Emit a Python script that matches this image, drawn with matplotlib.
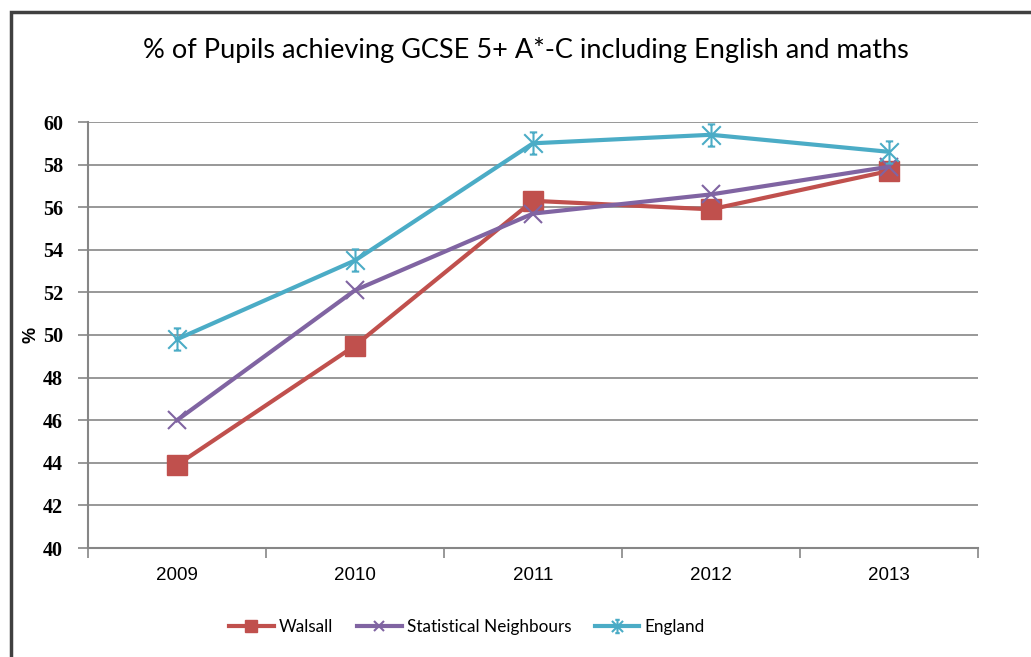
import matplotlib.pyplot as plt
import matplotlib.patches as mpatches
from matplotlib.path import Path

# data
years = ["2009", "2010", "2011", "2012", "2013"]
walsall = [43.9, 49.5, 56.3, 55.9, 57.7]
stat_neighbours = [46.0, 52.1, 55.7, 56.6, 57.9]
england = [49.8, 53.5, 59.0, 59.4, 58.6]
y_ticks = list(range(40, 61, 2))

# Excel-style star marker: X with a vertical bar and caps
star = Path(
    [(-1, -1), (1, 1), (-1, 1), (1, -1), (0, -1.2), (0, 1.2),
     (-0.4, 1.2), (0.4, 1.2), (-0.4, -1.2), (0.4, -1.2)],
    [Path.MOVETO, Path.LINETO] * 5,
)

fig = plt.figure(figsize=(10.31, 6.57), dpi=100)
ax = fig.add_axes([88 / 1031, 1 - 548 / 657, 890 / 1031, 426 / 657])

x = list(range(len(years)))
ax.plot(x, walsall, color="#C0504D", lw=3, marker="s", ms=15,
        label="Walsall", zorder=3)
ax.plot(x, stat_neighbours, color="#8064A2", lw=3, marker="x", ms=13,
        mew=1.5, label="Statistical Neighbours", zorder=4)
ax.plot(x, england, color="#4BACC6", lw=3, marker=star, ms=16,
        mew=1.5, label="England", zorder=5)

ax.set_xlim(-0.5, len(years) - 0.5)
ax.set_ylim(40, 60)
ax.set_yticks(y_ticks)
ax.set_yticklabels([str(v) for v in y_ticks], family="Liberation Serif",
                   fontweight="bold", fontsize=14.5)
ax.set_xticks([i - 0.5 for i in range(len(years) + 1)], minor=False)
ax.set_xticklabels([])
ax.set_xticks(x, minor=True)
ax.set_xticklabels(years, minor=True, family="Liberation Sans", fontsize=13.5)
ax.tick_params(axis="x", which="major", length=7, width=1.2, color="#868686",
               direction="out")
ax.tick_params(axis="x", which="minor", length=0, pad=14)
ax.tick_params(axis="y", length=7, width=1.2, color="#868686", pad=11)

ax.grid(axis="y", color="#868686", lw=1.2)
ax.set_axisbelow(True)
for side in ["top", "right"]:
    ax.spines[side].set_visible(False)
for side in ["left", "bottom"]:
    ax.spines[side].set_color("#868686")
    ax.spines[side].set_linewidth(1.5)

ax.set_ylabel("%", family="Liberation Sans", fontweight="bold", fontsize=13,
              labelpad=2)

fig.text(0.51, 1 - 50 / 657, "% of Pupils achieving GCSE 5+ A*-C including English and maths",
         ha="center", va="center", family="Lato", fontsize=19.5)

leg = fig.legend(loc="center", bbox_to_anchor=(0.453, 1 - 627 / 657), ncol=3,
                 frameon=False, prop={"family": "Lato", "size": 12.3},
                 handlelength=2.6, columnspacing=1.4, handletextpad=0.3,
                 markerscale=0.6)

# outer chart frame
fig.patches.append(mpatches.Rectangle((11 / 1031, -0.05), 1.1, 1 - 12 / 657 + 0.05,
                                      transform=fig.transFigure, fill=False,
                                      edgecolor="#404040", lw=2.5))

fig.savefig("out.png", dpi=100, facecolor="white")
